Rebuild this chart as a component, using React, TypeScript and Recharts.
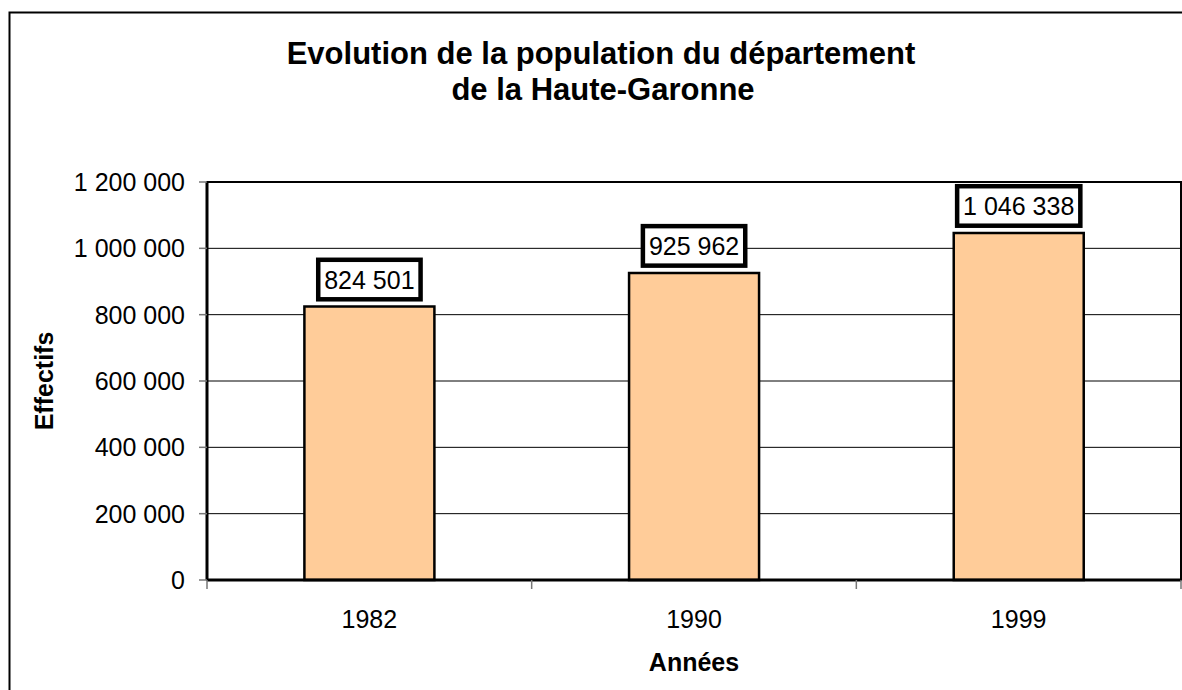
import React from 'react';
import { BarChart, Bar, XAxis, YAxis, CartesianGrid, LabelList, Label, ReferenceArea } from 'recharts';

const years = ['1982', '1990', '1999'];
const population = [824501, 925962, 1046338];
const yTicks = [0, 200000, 400000, 600000, 800000, 1000000, 1200000];
const titleLines = ['Evolution de la population du département', 'de la Haute-Garonne'];
const xTitle = 'Années';
const yTitle = 'Effectifs';

const data = years.map((y, i) => ({ year: y, value: population[i] }));

const FONT = '"Liberation Sans", Arial, Helvetica, sans-serif';
const fmt = (n: number) => String(n).replace(/\B(?=(\d{3})+(?!\d))/g, ' ');

const textWidth = (s: string, size: number) => {
  let w = 0;
  for (const c of s) w += c === ' ' ? 0.278 : 0.556;
  return w * size;
};

const renderLabel = (props: any) => {
  const { x, y, width, value } = props;
  const s = fmt(Number(value));
  const tw = textWidth(s, 25);
  const rw = tw + 12;
  const rh = 39.5;
  const cx = Number(x) + Number(width) / 2;
  const top = Number(y);
  return (
    <g>
      <rect x={cx - rw / 2} y={top - 46.75} width={rw} height={rh} fill="#fff" stroke="#000" strokeWidth={4.5} />
      <text x={cx} y={top - 18} textAnchor="middle" fontFamily={FONT} fontSize={25} fill="#000">
        {s}
      </text>
    </g>
  );
};

const XTick = (props: any) => {
  const { x, y, payload, index, visibleTicksCount } = props;
  const half = payload && typeof payload.offset === 'number' ? payload.offset : 0;
  const axisY = Number(y) - 30;
  const last = index === (visibleTicksCount ?? years.length) - 1;
  return (
    <g>
      {half > 0 && <line x1={x - half} x2={x - half} y1={axisY} y2={axisY + 9} stroke="#777" strokeWidth={1.5} />}
      {half > 0 && last && <line x1={x + half} x2={x + half} y1={axisY} y2={axisY + 9} stroke="#777" strokeWidth={1.5} />}
      <text x={x} y={y} dy="0.71em" textAnchor="middle" fontFamily={FONT} fontSize={25} fill="#000">
        {payload.value}
      </text>
    </g>
  );
};

export default function App() {
  return (
    <div style={{ position: 'absolute', left: 0, top: 0, width: 1182, height: 690, overflow: 'hidden', background: '#fff' }}>
      <div style={{ position: 'absolute', left: 0, top: 0 }}>
        <BarChart
          width={1182}
          height={690}
          data={data}
          margin={{ top: 182, right: 1, bottom: 0, left: 10 }}
          barCategoryGap="30%"
        >
          <CartesianGrid horizontal vertical={false} stroke="#000" strokeWidth={1} />
          <ReferenceArea y1={0} y2={1200000} fill="none" stroke="#000" strokeWidth={2} ifOverflow="visible" />
          <XAxis
            dataKey="year"
            tickLine={false}
            tickSize={0}
            tickMargin={30}
            interval={0}
            axisLine={{ stroke: '#000', strokeWidth: 3 }}
            tick={<XTick />}
            height={110}
          >
            <Label
              content={(p: any) => {
                const vb = p.viewBox;
                return (
                  <text x={vb.x + vb.width / 2} y={671} textAnchor="middle" fontFamily={FONT} fontWeight="bold" fontSize={25} fill="#000">
                    {xTitle}
                  </text>
                );
              }}
            />
          </XAxis>
          <YAxis
            domain={[0, 1200000]}
            ticks={yTicks}
            interval={0}
            tickFormatter={fmt}
            width={197}
            tickSize={8}
            tickMargin={14}
            tickLine={{ stroke: '#777', strokeWidth: 1.5 }}
            axisLine={{ stroke: '#000', strokeWidth: 3 }}
            tick={{ fontFamily: FONT, fontSize: 25, fill: '#000' }}
          >
            <Label
              content={(p: any) => {
                const vb = p.viewBox;
                const cx = vb.x + 43;
                const cy = vb.y + vb.height / 2;
                return (
                  <text x={cx} y={cy} transform={`rotate(-90, ${cx}, ${cy})`} textAnchor="middle" fontFamily={FONT} fontWeight="bold" fontSize={25} fill="#000">
                    {yTitle}
                  </text>
                );
              }}
            />
          </YAxis>
          <Bar dataKey="value" fill="#FFCC99" stroke="#000" strokeWidth={2.5} isAnimationActive={false}>
            <LabelList dataKey="value" content={renderLabel} />
          </Bar>
        </BarChart>
      </div>
      <svg width={1182} height={690} style={{ position: 'absolute', left: 0, top: 0, pointerEvents: 'none' }}>
        <rect x={9.5} y={12.5} width={1300} height={800} fill="none" stroke="#000" strokeWidth={2} />
        <text x={601} y={64} textAnchor="middle" fontFamily={FONT} fontWeight="bold" fontSize={31} fill="#000">
          {titleLines[0]}
        </text>
        <text x={603} y={100} textAnchor="middle" fontFamily={FONT} fontWeight="bold" fontSize={31} fill="#000">
          {titleLines[1]}
        </text>
      </svg>
    </div>
  );
}
